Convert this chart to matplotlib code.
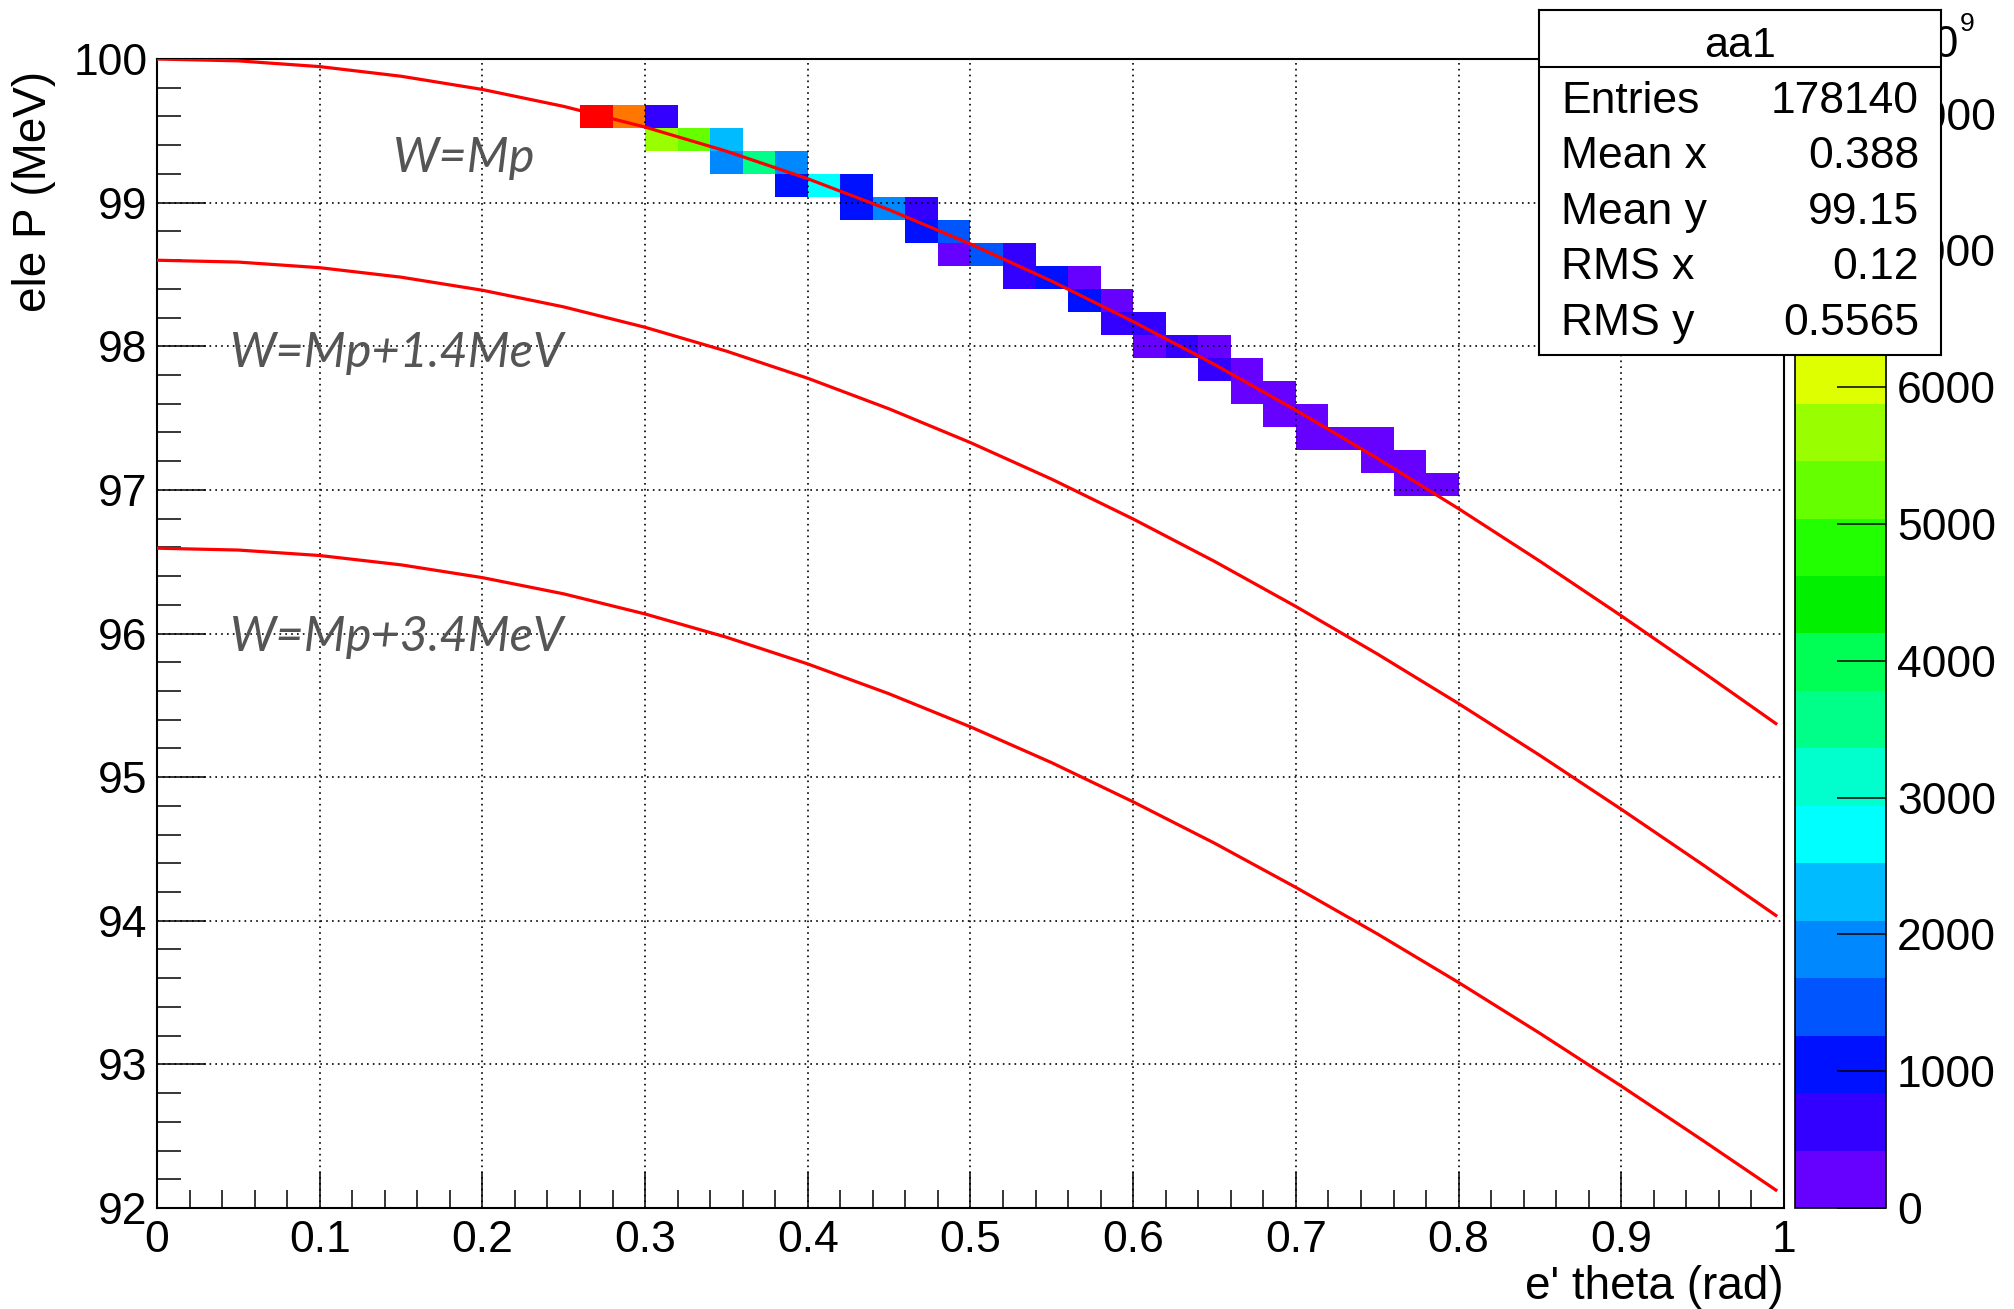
import numpy as np
import matplotlib.pyplot as plt
from matplotlib.colors import ListedColormap, BoundaryNorm

plt.rcParams['font.family'] = ['Liberation Sans', 'DejaVu Sans']

# 2D histogram cells (bin centres) and their contents
cell_theta = [0.27, 0.29, 0.31,
              0.31, 0.33, 0.35,
              0.35, 0.37, 0.39,
              0.39, 0.41, 0.43,
              0.43, 0.45, 0.47,
              0.47, 0.49,
              0.49, 0.51, 0.53,
              0.53, 0.55, 0.57,
              0.57, 0.59,
              0.59, 0.61,
              0.61, 0.63, 0.65,
              0.65, 0.67,
              0.67, 0.69,
              0.69, 0.71,
              0.71, 0.73, 0.75,
              0.75, 0.77,
              0.77, 0.79]
cell_p = [99.60, 99.60, 99.60,
          99.44, 99.44, 99.44,
          99.28, 99.28, 99.28,
          99.12, 99.12, 99.12,
          98.96, 98.96, 98.96,
          98.80, 98.80,
          98.64, 98.64, 98.64,
          98.48, 98.48, 98.48,
          98.32, 98.32,
          98.16, 98.16,
          98.00, 98.00, 98.00,
          97.84, 97.84,
          97.68, 97.68,
          97.52, 97.52,
          97.36, 97.36, 97.36,
          97.20, 97.20,
          97.04, 97.04]
cell_counts = [8350, 7300, 650,
               5700, 5250, 2300,
               1900, 3550, 1850,
               1050, 2750, 1000,
               1100, 1900, 600,
               1000, 1450,
               300, 1400, 650,
               700, 1000, 300,
               950, 350,
               600, 650,
               380, 560, 360,
               520, 390,
               350, 380,
               340, 360,
               300, 330, 290,
               310, 320,
               290, 300]

# kinematic curves
theta_curve = [0.0, 0.05, 0.1, 0.15, 0.2, 0.25, 0.3, 0.35, 0.4, 0.45, 0.5,
               0.55, 0.6, 0.65, 0.7, 0.75, 0.8, 0.85, 0.9, 0.95, 0.995]
p_w_mp = [100.0, 99.987, 99.947, 99.880, 99.788, 99.670, 99.526, 99.358, 99.166, 98.950, 98.712,
          98.453, 98.172, 97.873, 97.555, 97.220, 96.869, 96.503, 96.123, 95.732, 95.373]
p_w_14 = [98.599, 98.586, 98.547, 98.481, 98.390, 98.274, 98.132, 97.966, 97.777, 97.564, 97.329,
          97.074, 96.797, 96.502, 96.188, 95.858, 95.512, 95.151, 94.776, 94.391, 94.037]
p_w_34 = [96.594, 96.581, 96.543, 96.478, 96.389, 96.276, 96.136, 95.974, 95.788, 95.580, 95.350,
          95.100, 94.828, 94.540, 94.232, 93.909, 93.570, 93.216, 92.849, 92.471, 92.125]

curve_labels = ['W=Mp', 'W=Mp+1.4MeV', 'W=Mp+3.4MeV']

x_ticks = [0, 0.1, 0.2, 0.3, 0.4, 0.5, 0.6, 0.7, 0.8, 0.9, 1.0]
x_tick_labels = ['0', '0.1', '0.2', '0.3', '0.4', '0.5', '0.6', '0.7', '0.8', '0.9', '1']
y_ticks = [92, 93, 94, 95, 96, 97, 98, 99, 100]
z_ticks = [0, 1000, 2000, 3000, 4000, 5000, 6000, 7000, 8000]
z_max = 8400

stats_names = ['Entries', 'Mean x', 'Mean y', 'RMS x', 'RMS y']
stats_values = ['178140', '0.388', '99.15', '0.12', '0.5565']

palette = ['#6600ff', '#3300ff', '#0011ff', '#0055ff', '#0088ff',
           '#00bbff', '#00ffff', '#00ffcc', '#00ff88', '#00ff55',
           '#00f000', '#22ff00', '#66ff00', '#99ff00', '#ddff00',
           '#ffee00', '#ffbb00', '#ff7700', '#ff4400', '#ff0000']

W, H = 2015, 1309
fig = plt.figure(figsize=(W / 100, H / 100), dpi=100)


def px(x0, y0, x1, y1):
    return [x0 / W, 1 - y1 / H, (x1 - x0) / W, (y1 - y0) / H]


ax = fig.add_axes(px(157, 59, 1784, 1208))
cax = fig.add_axes(px(1795, 59, 1886, 1208))
sax = fig.add_axes(px(1539, 10, 1941, 355))
sax.set_zorder(5)

# histogram
x_edges = np.linspace(0, 1, 51)
y_edges = np.linspace(92, 100, 51)
hist, _, _ = np.histogram2d(cell_theta, cell_p, bins=[x_edges, y_edges], weights=cell_counts)
hist = np.ma.masked_equal(hist, 0)

cmap = ListedColormap(palette)
norm = BoundaryNorm(np.linspace(0, z_max, len(palette) + 1), len(palette))
mesh = ax.pcolormesh(x_edges, y_edges, hist.T, cmap=cmap, norm=norm, zorder=1)

for p in [p_w_mp, p_w_14, p_w_34]:
    ax.plot(theta_curve, p, color='#ff0000', lw=2.3, zorder=3)

lab_kw = dict(fontsize=35, color='#555555', family=['Lato', 'DejaVu Sans'], style='italic', va='baseline')
ax.text(0.145, 99.21, curve_labels[0], **lab_kw)
ax.text(0.045, 97.855, curve_labels[1], **lab_kw)
ax.text(0.045, 95.875, curve_labels[2], **lab_kw)

ax.set_xlim(0, 1)
ax.set_ylim(92, 100)
ax.set_xticks(x_ticks, x_tick_labels)
ax.set_xticks(np.arange(0, 1.001, 0.02), minor=True)
ax.set_yticks(y_ticks, [str(v) for v in y_ticks])
ax.set_yticks(np.arange(92, 100.001, 0.2), minor=True)
ax.tick_params(axis='x', which='major', direction='in', length=26, width=1.1, labelsize=32, pad=9)
ax.tick_params(axis='x', which='minor', direction='in', length=13, width=1.1)
ax.tick_params(axis='y', which='major', direction='in', length=35, width=1.1, labelsize=32, pad=7)
ax.tick_params(axis='y', which='minor', direction='in', length=17, width=1.1)
ax.grid(True, which='major', color='black', linestyle=(0, (1, 2.5)), linewidth=1.2, zorder=2)
ax.set_axisbelow(False)
for s in ax.spines.values():
    s.set_linewidth(1.5)

ax.set_xlabel("e' theta (rad)", fontsize=33, loc='right')
ax.xaxis.set_label_coords(1.0, -0.05)
ax.set_ylabel('ele P (MeV)', fontsize=33, loc='top')
ax.yaxis.set_label_coords(-0.062, 0.99)

# palette axis
cb = fig.colorbar(mesh, cax=cax, ticks=z_ticks, spacing='proportional')
cb.minorticks_off()
cb.outline.set_linewidth(1.2)
cax.tick_params(direction='in', length=35, width=1.1, labelsize=32, pad=8)
cax.set_yticklabels([str(v) for v in z_ticks])

fig.text(1959 / W, 1 - 57 / H, '10', fontsize=32, ha='right', va='baseline')
fig.text(1960 / W, 1 - 31 / H, '9', fontsize=19, ha='left', va='baseline')

# stats box
sax.set_xlim(0, 1)
sax.set_ylim(0, 1)
sax.set_xticks([])
sax.set_yticks([])
sax.set_facecolor('white')
for s in sax.spines.values():
    s.set_linewidth(1.5)
sax.axhline(0.835, color='black', lw=1.5)
sax.text(0.5, 0.864, 'aa1', fontsize=31, ha='center', va='baseline')
row_y = [0.701, 0.541, 0.380, 0.219, 0.058]
for name, val, yy in zip(stats_names, stats_values, row_y):
    sax.text(0.055, yy, name, fontsize=32, ha='left', va='baseline')
    sax.text(0.945, yy, val, fontsize=32, ha='right', va='baseline')

fig.savefig('out.png', dpi=100)
